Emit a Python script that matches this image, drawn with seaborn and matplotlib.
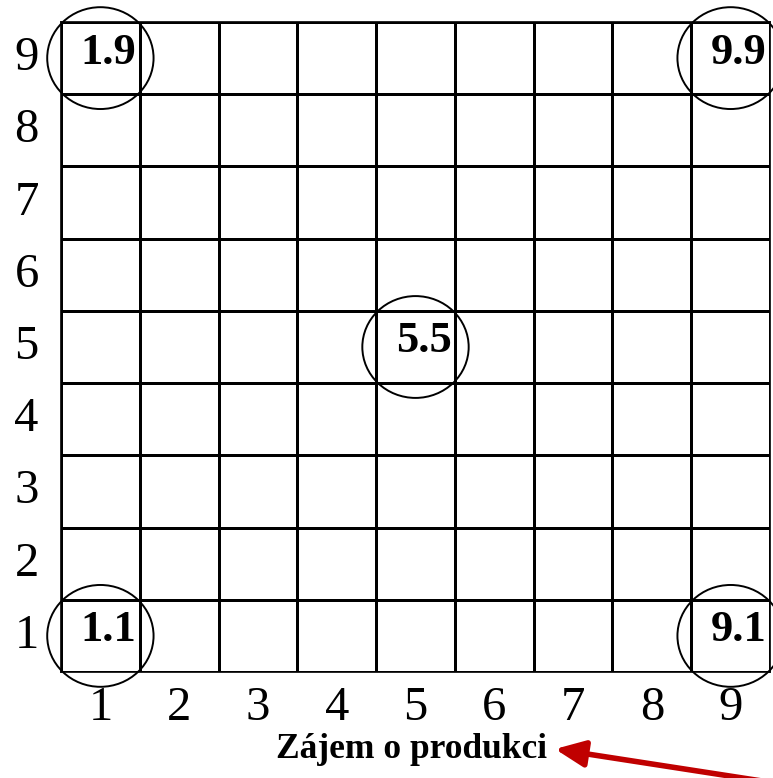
import numpy as np
import pandas as pd
import seaborn as sns
import matplotlib
matplotlib.use("Agg")
import matplotlib.pyplot as plt
from matplotlib.colors import ListedColormap
from matplotlib.patches import Ellipse

# --- data ---
x_labels = ["1", "2", "3", "4", "5", "6", "7", "8", "9"]
y_labels = ["9", "8", "7", "6", "5", "4", "3", "2", "1"]
point_labels = ["1.1", "1.9", "5.5", "9.1", "9.9"]
point_x = [1, 1, 5, 9, 9]
point_y = [1, 9, 5, 1, 9]
x_title = "Zájem o produkci"

sns.set_theme(style="white")
plt.rcParams["font.family"] = ["Liberation Serif", "DejaVu Serif"]
plt.rcParams["text.color"] = "black"

fig = plt.figure(figsize=(7.73, 7.78), dpi=100)
ax = fig.add_axes([61 / 773, 1 - 672 / 778, 709 / 773, 650 / 778])

grid = pd.DataFrame(np.zeros((len(y_labels), len(x_labels))), index=y_labels, columns=x_labels)
sns.heatmap(grid, ax=ax, cmap=ListedColormap(["white"]), cbar=False,
            linewidths=0.9, linecolor="black", square=False)

for s in ax.spines.values():
    s.set_visible(True)
    s.set_color("black")
    s.set_linewidth(1.2)

ax.tick_params(axis="both", length=0, labelsize=35, colors="black")
ax.tick_params(axis="x", pad=10, labelrotation=0)
ax.tick_params(axis="y", pad=16, labelrotation=0)
for t in ax.get_xticklabels() + ax.get_yticklabels():
    t.set_fontfamily(["Liberation Serif", "DejaVu Serif"])

n = len(y_labels)
for lbl, px, py in zip(point_labels, point_x, point_y):
    cx = px - 0.5
    cy = n - py + 0.5
    e = Ellipse((cx, cy), width=1.35, height=1.41, fill=False, edgecolor="black",
                linewidth=1.4, clip_on=False, transform=ax.transData)
    ax.add_patch(e)
    ax.annotate(lbl, (cx, cy), xytext=(6, 4), textcoords="offset points",
                ha="center", va="center", fontsize=32, fontweight="bold", color="black",
                family=["Liberation Serif", "DejaVu Serif"], annotation_clip=False)

fig.text(411 / 773, 1 - 749 / 778, x_title, ha="center", va="center", color="black",
         fontsize=25.5, fontweight="bold", family=["Liberation Serif", "DejaVu Serif"])

ax.annotate("", xy=(555, 29), xycoords="figure pixels",
            xytext=(762, -3), textcoords="figure pixels",
            arrowprops=dict(arrowstyle="-|>,head_length=1.8,head_width=0.8",
                            color="#C00000", lw=4, shrinkA=0, shrinkB=0,
                            mutation_scale=10),
            annotation_clip=False)

ax.set_xlabel("")
ax.set_ylabel("")
fig.savefig("out.png", dpi=100)
